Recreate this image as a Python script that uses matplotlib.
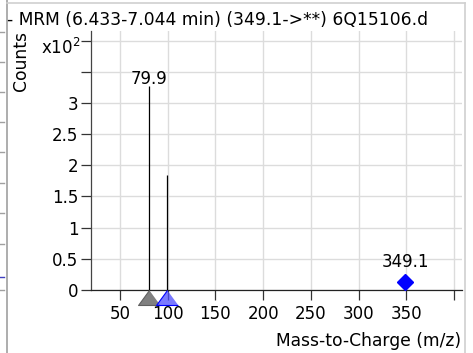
import numpy as np
import matplotlib
matplotlib.use('Agg')
import matplotlib.pyplot as plt
from matplotlib.lines import Line2D

# data
peak_mz = [79.9, 99.0]
peak_counts = [3.27, 1.85]          # x10^2
peak_labels = ['79.9', '']
precursor_mz = [349.1]
precursor_counts = [0.13]
precursor_labels = ['349.1']
title = '- MRM (6.433-7.044 min) (349.1->**) 6Q15106.d'

plt.rcParams['font.family'] = ['DejaVu Sans']
fs = 12.3

fig = plt.figure(figsize=(4.73, 3.53), dpi=100)
ax = fig.add_axes([91 / 473, 1 - 290 / 353, (462 - 91) / 473, (290 - 31) / 353])

ax.set_xlim(19.6, 408.4)
ax.set_ylim(0, 4.155)

# grid
ax.set_xticks(np.arange(50, 401, 50))
ax.set_yticks(np.arange(0, 4.01, 0.5))
ax.grid(True, color='#dcdcdc', linewidth=1.0)
ax.set_axisbelow(True)

ax.set_xticklabels(['50', '100', '150', '200', '250', '300', '350', ''], fontsize=12)
ax.set_yticklabels(['0', '0.5', '1', '1.5', '2', '2.5', '3', '', ''], fontsize=12)
ax.tick_params(axis='both', direction='out', length=7, width=0.9, color='#333333', pad=2)
ax.tick_params(axis='x', pad=4)

for s in ['top', 'right']:
    ax.spines[s].set_visible(False)
ax.spines['left'].set_color('#444444')
ax.spines['left'].set_linewidth(0.9)
ax.spines['bottom'].set_color('#222222')
ax.spines['bottom'].set_linewidth(0.9)

# peaks
ax.vlines(peak_mz, 0, peak_counts, color='black', linewidth=0.9, zorder=3)
for x, y, lab in zip(peak_mz, peak_counts, peak_labels):
    if lab:
        ax.text(x, y - 0.03, lab, ha='center', va='bottom', fontsize=12, zorder=5)

# precursor marker
ax.plot(precursor_mz, precursor_counts, linestyle='none', marker='D', markersize=8,
        color='#0000ff', zorder=4, clip_on=False)
for x, y, lab in zip(precursor_mz, precursor_counts, precursor_labels):
    ax.text(x, y + 0.17, lab, ha='center', va='bottom', fontsize=12, zorder=5)

# triangle markers below the axis (apex at zero)
tri = [(0, 0), (-0.73, -1), (0.73, -1)]
ax.plot(peak_mz[0], 0, linestyle='none', marker=tri, markersize=21.6,
        markerfacecolor='#808080', markeredgecolor='#606060', markeredgewidth=0.8,
        zorder=6, clip_on=False)
ax.plot(peak_mz[1], 0, linestyle='none', marker=tri, markersize=21.6,
        markerfacecolor=(0.3, 0.3, 1.0, 0.75), markeredgecolor='#0000ff', markeredgewidth=0.8,
        zorder=6, clip_on=False)

# labels
fig.text(461 / 473, 1 - 341 / 353, 'Mass-to-Charge (m/z)', ha='right', va='center', fontsize=fs)
fig.text(21 / 473, 1 - 61 / 353, 'Counts', rotation=90, ha='center', va='center', fontsize=fs)
fig.text(80 / 473, 1 - 48 / 353, r'x10$^2$', ha='right', va='center', fontsize=12)
fig.text(7 / 473, 1 - 20 / 353, title, ha='left', va='center', fontsize=fs)

# outer panel frame and neighbouring panel remnants
fig.add_artist(Line2D([7 / 473, 7 / 473], [0, 1], color='#a0a0a0', linewidth=1.2))
fig.add_artist(Line2D([7 / 473, 465 / 473], [1 - 3 / 353, 1 - 3 / 353], color='#d0d0d0', linewidth=1.2))
fig.add_artist(Line2D([465 / 473, 465 / 473], [0, 1 - 3 / 353], color='#d0d0d0', linewidth=1.2))
for yy in [32, 62, 92, 122, 152, 183, 213, 244, 290]:
    fig.add_artist(Line2D([0, 4 / 473], [1 - yy / 353, 1 - yy / 353], color='#a0a0a0', linewidth=1))
fig.add_artist(Line2D([0, 4 / 473], [1 - 277 / 353, 1 - 277 / 353], color='#4040c0', linewidth=1))

fig.savefig('out.png', dpi=100)
